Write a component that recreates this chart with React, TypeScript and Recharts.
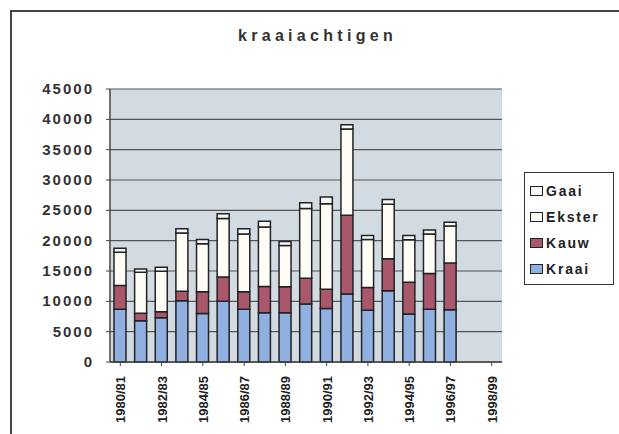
import React from "react";
import { BarChart, Bar, XAxis, YAxis, CartesianGrid } from "recharts";

const seasons = [
  "1980/81", "1981/82", "1982/83", "1983/84", "1984/85", "1985/86", "1986/87",
  "1987/88", "1988/89", "1989/90", "1990/91", "1991/92", "1992/93", "1993/94",
  "1994/95", "1995/96", "1996/97", "1997/98", "1998/99",
];
const kraai = [8700, 6800, 7300, 10100, 8000, 10000, 8700, 8100, 8100, 9550, 8800, 11200, 8550, 11750, 7900, 8700, 8600, null, null];
const kauw = [3900, 1250, 1000, 1550, 3600, 4000, 2900, 4350, 4300, 4250, 3200, 13000, 3750, 5250, 5250, 5900, 7700, null, null];
const ekster = [5500, 6750, 6650, 9600, 7900, 9650, 9500, 9800, 6800, 11500, 14100, 14200, 7900, 9000, 7000, 6500, 6100, null, null];
const gaai = [660, 550, 650, 700, 700, 800, 850, 950, 650, 950, 1100, 700, 650, 800, 700, 650, 650, null, null];
const yTicks = [0, 5000, 10000, 15000, 20000, 25000, 30000, 35000, 40000, 45000];

const data = seasons.map((s, i) => ({
  season: s,
  Kraai: kraai[i],
  Kauw: kauw[i],
  Ekster: ekster[i],
  Gaai: gaai[i],
}));

const COLORS = {
  Kraai: "#8fb0e0",
  Kauw: "#a9586c",
  Ekster: "#fdfdf6",
  Gaai: "#f4f8f8",
};

const FONT = "'Liberation Sans', Arial, sans-serif";

const XTick = (props: any) => {
  const { x, y, payload } = props;
  return (
    <text
      x={0}
      y={0}
      transform={`translate(${x + 5},${y + 8}) rotate(-90)`}
      textAnchor="end"
      fontFamily={FONT}
      fontWeight="bold"
      fontSize={13}
      fill="#222"
    >
      {payload.value}
    </text>
  );
};

const YTick = (props: any) => {
  const { x, y, payload } = props;
  return (
    <text
      x={x - 10}
      y={y + 5}
      textAnchor="end"
      fontFamily={FONT}
      fontWeight="bold"
      fontSize={15}
      letterSpacing={2}
      fill="#333"
    >
      {payload.value}
    </text>
  );
};

const legendItems = ["Gaai", "Ekster", "Kauw", "Kraai"] as const;

export default function App() {
  return (
    <div style={{ position: "absolute", left: 0, top: 0, width: 619, height: 434, background: "#fff" }}>
      <div
        style={{
          position: "absolute",
          left: 10,
          top: 10,
          width: 609,
          height: 424,
          borderTop: "2px solid #444",
          borderLeft: "2px solid #444",
        }}
      />
      <div
        style={{
          position: "absolute",
          left: 0,
          width: 619,
          top: 27,
          textAlign: "center",
          fontFamily: FONT,
          fontWeight: "bold",
          fontSize: 16,
          letterSpacing: 4.3,
          color: "#333",
          paddingLeft: 16,
          boxSizing: "border-box",
        }}
      >
        kraaiachtigen
      </div>
      <div style={{ position: "absolute", left: 0, top: 0 }}>
        <BarChart
          width={619}
          height={434}
          data={data}
          margin={{ top: 89, right: 117, bottom: 0, left: 0 }}
          barCategoryGap={0}
          barSize={12}
        >
          <CartesianGrid vertical={false} stroke="#555" strokeWidth={1.2} fill="#d3dbe2" />
          <XAxis
            dataKey="season"
            interval={1}
            height={72}
            tick={<XTick />}
            tickLine={{ stroke: "#444" }}
            axisLine={{ stroke: "#444", strokeWidth: 1.5 }}
            tickSize={4}
          />
          <YAxis
            width={110}
            domain={[0, 45000]}
            ticks={yTicks}
            interval={0}
            tick={<YTick />}
            tickLine={{ stroke: "#444" }}
            axisLine={{ stroke: "#444", strokeWidth: 1.5 }}
            tickSize={4}
          />
          <YAxis
            yAxisId="r"
            orientation="right"
            width={0}
            domain={[0, 45000]}
            tick={false}
            tickLine={false}
            axisLine={{ stroke: "#666", strokeWidth: 1.5 }}
          />
          <Bar dataKey="Kraai" stackId="a" fill={COLORS.Kraai} stroke="#222" strokeWidth={1.5} isAnimationActive={false} />
          <Bar dataKey="Kauw" stackId="a" fill={COLORS.Kauw} stroke="#222" strokeWidth={1.5} isAnimationActive={false} />
          <Bar dataKey="Ekster" stackId="a" fill={COLORS.Ekster} stroke="#222" strokeWidth={1.5} isAnimationActive={false} />
          <Bar dataKey="Gaai" stackId="a" fill={COLORS.Gaai} stroke="#222" strokeWidth={1.5} isAnimationActive={false} />
        </BarChart>
      </div>
      <div
        style={{
          position: "absolute",
          left: 524,
          top: 172,
          width: 90,
          height: 113,
          border: "1.5px solid #333",
          boxSizing: "border-box",
          background: "#fff",
          paddingTop: 5,
        }}
      >
        {legendItems.map((k) => (
          <div
            key={k}
            style={{
              display: "flex",
              alignItems: "center",
              height: 26,
              paddingLeft: 5,
              fontFamily: FONT,
              fontWeight: "bold",
              fontSize: 14,
              letterSpacing: 1.8,
              color: "#222",
            }}
          >
            <span
              style={{
                display: "inline-block",
                width: 11,
                height: 8,
                background: COLORS[k],
                border: "1.5px solid #222",
                marginRight: 3,
              }}
            />
            {k}
          </div>
        ))}
      </div>
    </div>
  );
}
